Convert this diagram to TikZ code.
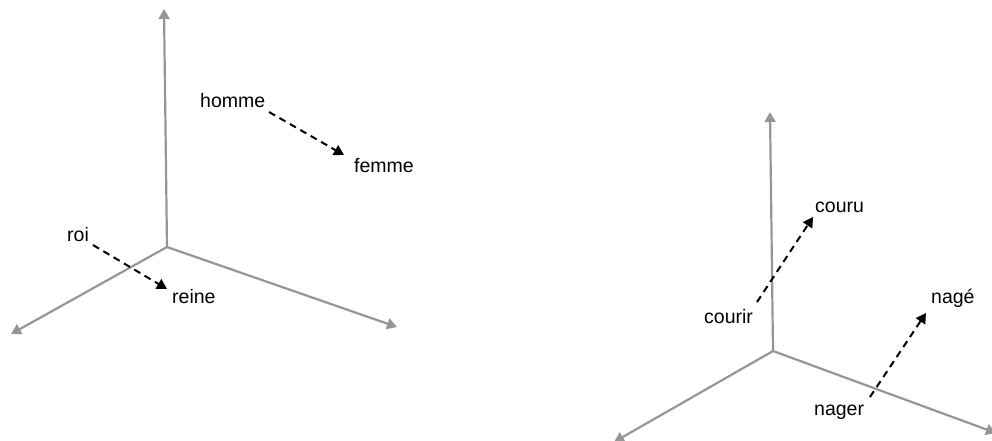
\documentclass[tikz,border=0pt]{standalone}
\usepackage{fontspec}
\setmainfont{Liberation Sans}
\usetikzlibrary{arrows.meta}
\definecolor{axisgray}{RGB}{150,150,150}
\begin{document}
\begin{tikzpicture}[x=1pt,y=-1pt,
  axis/.style={draw=axisgray,line width=2.2pt,-{Triangle[length=10pt,width=11pt]}},
  vec/.style={draw=black,line width=2pt,dash pattern=on 7pt off 5pt,-{Triangle[length=10pt,width=11pt]}},
  word/.style={anchor=base west,inner sep=0pt,font=\fontsize{19.5}{22}\selectfont}]
\useasboundingbox (0,0) rectangle (992,440);
\clip (0,0) rectangle (992,440);
% left axes
\coordinate (o1) at (167,247);
\coordinate (u1) at (164,9);
\coordinate (l1) at (11,334);
\coordinate (r1) at (397,327);
\draw[axis] (o1) -- (u1);
\draw[axis] (o1) -- (l1);
\draw[axis] (o1) -- (r1);
% right axes
\coordinate (o2) at (773,351);
\coordinate (u2) at (770,112);
\coordinate (l2) at (614,442);
\coordinate (r2) at (996,433);
\draw[axis] (o2) -- (u2);
\draw[axis] (o2) -- (l2);
\draw[axis] (o2) -- (r2);
% labels
\node[word] (homme) at (200,107) {homme};
\node[word] (femme) at (354,172) {femme};
\node[word] (roi) at (67,241) {roi};
\node[word] (reine) at (172,303) {reine};
\node[word] (courir) at (704,323) {courir};
\node[word] (couru) at (815,212) {couru};
\node[word] (nage) at (931,303) {nagé};
\node[word] (nager) at (814,415) {nager};
% vector endpoints
\coordinate (hs) at (269,112);
\coordinate (he) at (344,155);
\coordinate (rs) at (93,245);
\coordinate (re) at (167,289);
\coordinate (cs) at (757,302);
\coordinate (ce) at (813,217);
\coordinate (ns) at (870,397);
\coordinate (ne) at (926,313);
\draw[vec] (hs) -- (he);
\draw[vec] (rs) -- (re);
\draw[vec] (cs) -- (ce);
\draw[vec] (ns) -- (ne);
\end{tikzpicture}
\end{document}
